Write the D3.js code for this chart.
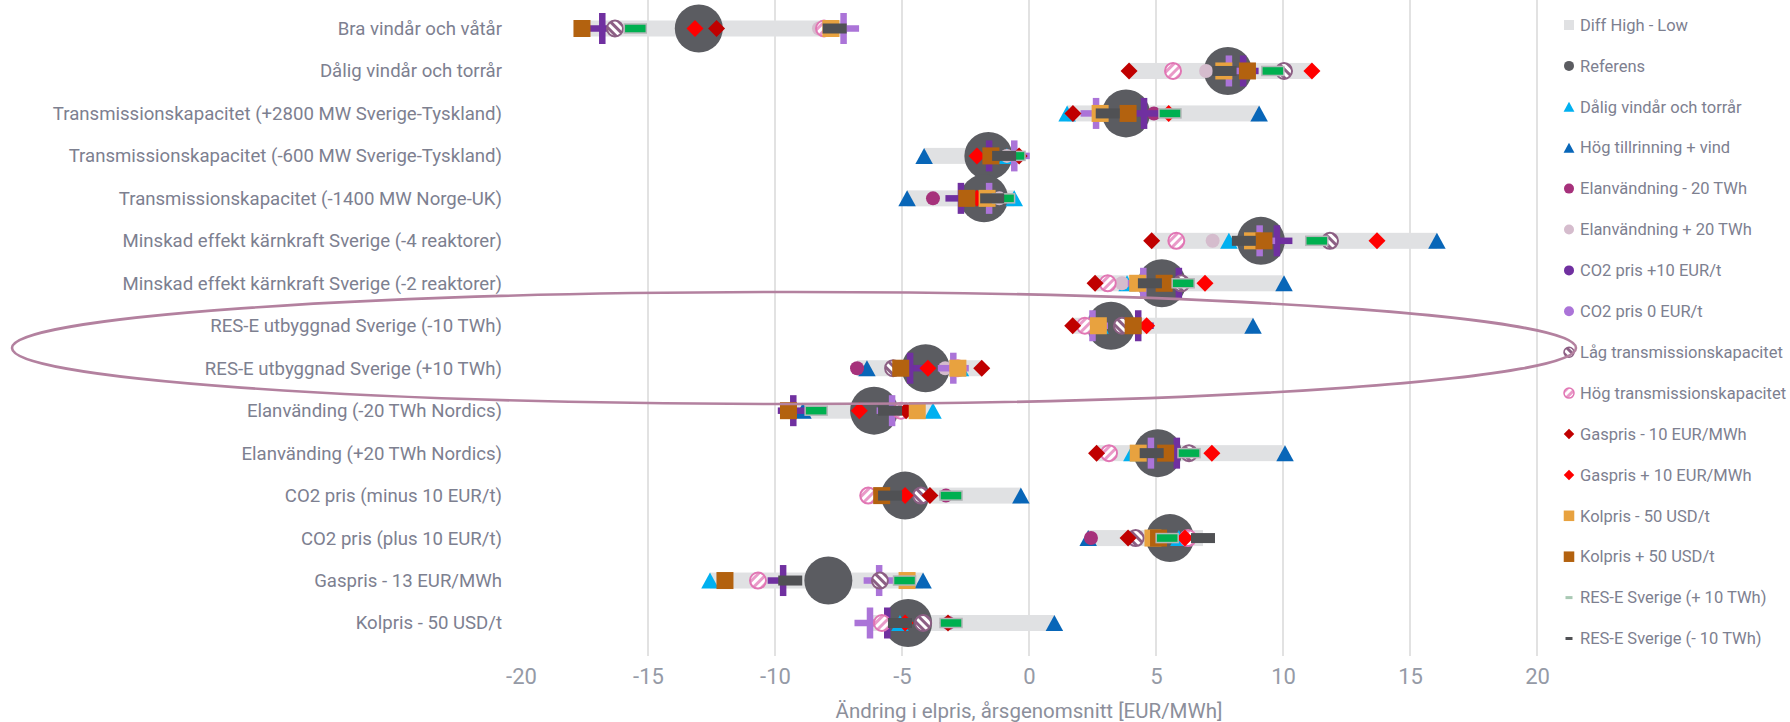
<!DOCTYPE html>
<html>
<head>
<meta charset="utf-8">
<script src="https://cdn.jsdelivr.net/npm/d3@7"></script>
<style>
body { margin: 0; background: #fff; }
text { font-family: Roboto, "Noto Sans", sans-serif; }
</style>
</head>
<body>
<script>
var width = 1790;
var height = 722;

var categories = [
    "Bra vindår och våtår",
    "Dålig vindår och torrår",
    "Transmissionskapacitet (+2800 MW Sverige-Tyskland)",
    "Transmissionskapacitet (-600 MW Sverige-Tyskland)",
    "Transmissionskapacitet (-1400 MW Norge-UK)",
    "Minskad effekt kärnkraft Sverige (-4 reaktorer)",
    "Minskad effekt kärnkraft Sverige (-2 reaktorer)",
    "RES-E utbyggnad Sverige (-10 TWh)",
    "RES-E utbyggnad Sverige (+10 TWh)",
    "Elanvänding (-20 TWh Nordics)",
    "Elanvänding (+20 TWh Nordics)",
    "CO2 pris (minus 10 EUR/t)",
    "CO2 pris (plus 10 EUR/t)",
    "Gaspris - 13 EUR/MWh",
    "Kolpris - 50 USD/t"
];

// one value per category, null = no marker in that row
var referens      = [-13.0, 7.83, 3.82, -1.6, -1.77, 9.13, 5.23, 3.23, -4.07, -6.1, 5.07, -4.88, 5.55, -7.9, -4.76];
var daligVind     = [null, null, 1.5, -0.87, -0.58, 7.87, 3.86, 2.8, -2.7, -3.78, 4.05, null, 5.9, -12.56, -5.08];
var hogTillrinning = [null, null, 9.06, -4.13, -4.8, 16.06, 10.04, 8.82, -6.38, -8.9, 10.08, -0.32, 2.33, -4.17, 1.0];
var elanvMinus    = [null, null, 4.92, null, -3.78, null, null, null, -6.77, null, null, -3.27, 2.44, null, -3.17];
var elanvPlus     = [-8.27, 6.97, null, -0.87, -1.17, 7.23, 3.66, null, -3.3, null, null, null, null, null, null];
var co2Plus10     = [-16.8, 8.43, 4.53, -1.57, -2.68, 9.76, 5.9, 4.3, -4.68, -9.28, 5.82, null, null, -9.68, -5.58];
var co2Zero       = [-7.3, 7.87, 2.64, -0.58, -1.57, 9.08, 4.5, 2.5, -2.98, -5.39, 4.8, null, null, -5.9, -6.26];
var lagTrans      = [-16.3, 10.04, null, null, null, 11.85, 6.0, 3.66, -5.35, null, 6.3, -4.25, 4.2, -5.87, -4.17];
var hogTrans      = [-8.07, 5.67, null, null, null, 5.8, 3.1, 2.2, -2.8, -5.04, 3.15, -6.33, 6.26, -10.67, -5.79];
var gasMinus      = [-12.3, 3.94, 1.73, -0.39, -1.7, 4.83, 2.6, 1.72, -1.86, -4.84, 2.66, -3.9, 3.9, null, -3.19];
var gasPlus       = [-13.15, 11.14, 5.5, -2.05, -2.05, 13.7, 6.93, 4.63, -3.98, -6.68, 7.2, -4.88, 6.14, null, -4.88];
var kolMinus      = [-7.8, 7.67, 2.8, null, -1.65, 8.8, 4.28, 2.73, -2.8, -4.4, 4.3, null, 4.88, -4.8, null];
var kolPlus       = [-17.6, 8.6, 3.9, -1.5, -2.45, 9.25, 5.32, 4.1, -5.05, -9.47, 5.38, -5.8, 5.1, -11.97, null];
var resPlus       = [-15.5, 9.6, 5.55, -0.59, -1.0, 11.33, 6.07, null, null, -8.38, 6.3, -3.07, 5.44, -4.9, -3.07];
var resMinus      = [-7.65, 7.7, 3.1, -0.98, -1.45, 8.46, 4.76, null, null, -5.47, 4.83, -5.47, 6.85, -9.4, -5.08];

var xTicks = [-20, -15, -10, -5, 0, 5, 10, 15, 20];
var xTitle = "Ändring i elpris, årsgenomsnitt [EUR/MWh]";

var series = [
    {name: "Referens", values: referens, marker: "bigcircle", color: "#5b5c61"},
    {name: "Dålig vindår och torrår", values: daligVind, marker: "triangle", color: "#00b0f0"},
    {name: "Hög tillrinning + vind", values: hogTillrinning, marker: "triangle", color: "#0866b8"},
    {name: "Elanvändning - 20 TWh", values: elanvMinus, marker: "circle", color: "#a6317b"},
    {name: "Elanvändning + 20 TWh", values: elanvPlus, marker: "circle", color: "#d5bccd"},
    {name: "CO2 pris +10 EUR/t", values: co2Plus10, marker: "plus", color: "#7030a0"},
    {name: "CO2 pris 0 EUR/t", values: co2Zero, marker: "plus", color: "#ab74d8"},
    {name: "Låg transmissionskapacitet", values: lagTrans, marker: "hatch", color: "#8c5f84", pattern: "hatchLow"},
    {name: "Hög transmissionskapacitet", values: hogTrans, marker: "hatch", color: "#e176b4", pattern: "hatchHigh"},
    {name: "Gaspris - 10 EUR/MWh", values: gasMinus, marker: "diamond", color: "#c00000"},
    {name: "Gaspris + 10 EUR/MWh", values: gasPlus, marker: "diamond", color: "#ff0000"},
    {name: "Kolpris - 50 USD/t", values: kolMinus, marker: "square", color: "#e8a23f"},
    {name: "Kolpris + 50 USD/t", values: kolPlus, marker: "square", color: "#b3620f"},
    {name: "RES-E Sverige (+ 10 TWh)", values: resPlus, marker: "dash", color: "#00b050"},
    {name: "RES-E Sverige (- 10 TWh)", values: resMinus, marker: "dash2", color: "#505154"}
];

var x = d3.scaleLinear().domain([-20, 20]).range([521, 1537]);
var y = d3.scalePoint().domain(categories).range([28.5, 623]);

var svg = d3.select("body").append("svg")
    .attr("width", width)
    .attr("height", height);

// hatch patterns for the transmission markers
var defs = svg.append("defs");
function addHatch(id, color, angle) {
    var p = defs.append("pattern")
        .attr("id", id)
        .attr("patternUnits", "userSpaceOnUse")
        .attr("width", 6).attr("height", 6)
        .attr("patternTransform", "rotate(" + angle + ")");
    p.append("rect").attr("width", 6).attr("height", 6).attr("fill", "#fff");
    p.append("rect").attr("x", 0).attr("width", 3).attr("height", 6).attr("fill", color);
}
addHatch("hatchLow", "#8c5f84", -45);
addHatch("hatchHigh", "#e99ac8", 45);

// gridlines
svg.append("g").selectAll("line")
    .data(xTicks.filter(function (d) { return d > -20; }))
    .enter().append("line")
    .attr("x1", function (d) { return x(d); })
    .attr("x2", function (d) { return x(d); })
    .attr("y1", 0)
    .attr("y2", 656)
    .style("stroke", "#d9d9d9")
    .style("stroke-width", 1.5);

// x axis
var xAxis = svg.append("g")
    .attr("transform", "translate(0,656)")
    .call(d3.axisBottom(x).tickValues(xTicks).tickSize(0).tickPadding(12).tickFormat(function (d) { return String(d); }));
xAxis.select(".domain").remove();
xAxis.selectAll("text")
    .style("font-size", "22px")
    .style("fill", "#959aa6")
    .style("font-family", "Roboto, sans-serif");

svg.append("text")
    .attr("x", x(0))
    .attr("y", 718)
    .attr("text-anchor", "middle")
    .style("font-size", "20.5px")
    .style("fill", "#8c8f9b")
    .text(xTitle);

// category labels
var yAxis = svg.append("g")
    .attr("transform", "translate(502,0)")
    .call(d3.axisLeft(y).tickSize(0).tickPadding(0));
yAxis.select(".domain").remove();
yAxis.selectAll("text")
    .style("font-size", "18.6px")
    .style("fill", "#7d8090")
    .style("font-family", "Roboto, sans-serif");

function drawMarker(g, s, k) {
    var c = s.color;
    k = k || 1;
    if (s.marker === "bigcircle") {
        g.append("circle").attr("r", 24 * k).attr("fill", c);
    } else if (s.marker === "circle") {
        g.append("circle").attr("r", 7 * k).attr("fill", c);
    } else if (s.marker === "triangle") {
        var h = 16 * k, w = 17.5 * k;
        g.append("path")
            .attr("d", "M0," + (-h / 2) + "L" + (w / 2) + "," + (h / 2) + "L" + (-w / 2) + "," + (h / 2) + "Z")
            .attr("fill", c);
    } else if (s.marker === "diamond") {
        var r = 8.5 * k;
        g.append("path")
            .attr("d", "M0," + (-r) + "L" + r + ",0L0," + r + "L" + (-r) + ",0Z")
            .attr("fill", c);
    } else if (s.marker === "square") {
        var a = 17 * k;
        g.append("rect").attr("x", -a / 2).attr("y", -a / 2).attr("width", a).attr("height", a).attr("fill", c);
    } else if (s.marker === "plus") {
        var L = 31 * k, t = 6.5 * k;
        g.append("rect").attr("x", -L / 2).attr("y", -t / 2).attr("width", L).attr("height", t).attr("fill", c);
        g.append("rect").attr("x", -t / 2).attr("y", -L / 2).attr("width", t).attr("height", L).attr("fill", c);
    } else if (s.marker === "hatch") {
        g.append("circle").attr("r", 8 * k)
            .attr("fill", "url(#" + s.pattern + ")")
            .attr("stroke", c)
            .attr("stroke-width", 2 * k);
    } else if (s.marker === "dash") {
        g.append("rect").attr("x", -11 * k).attr("y", -4.5 * k).attr("width", 22 * k).attr("height", 9 * k)
            .attr("fill", c).attr("stroke", "#b4b6b8").attr("stroke-width", 1.5 * k);
    } else if (s.marker === "dash2") {
        g.append("rect").attr("x", -12 * k).attr("y", -5 * k).attr("width", 24 * k).attr("height", 10 * k)
            .attr("fill", c);
    }
}

// diff high - low bars
var diffs = categories.map(function (cat, i) {
    var vals = series.map(function (s) { return s.values[i]; }).filter(function (v) { return v !== null; });
    return {cat: cat, lo: d3.min(vals), hi: d3.max(vals)};
});
svg.append("g").selectAll("rect")
    .data(diffs)
    .enter().append("rect")
    .attr("x", function (d) { return x(d.lo); })
    .attr("y", function (d) { return y(d.cat) - 8; })
    .attr("width", function (d) { return x(d.hi) - x(d.lo); })
    .attr("height", 16)
    .attr("fill", "#e0e1e3");

// markers, in series order
series.forEach(function (s) {
    var pts = categories.map(function (cat, i) { return {cat: cat, v: s.values[i]}; })
        .filter(function (d) { return d.v !== null; });
    svg.append("g").selectAll("g")
        .data(pts)
        .enter().append("g")
        .attr("transform", function (d) { return "translate(" + x(d.v) + "," + y(d.cat) + ")"; })
        .each(function () { drawMarker(d3.select(this), s, 1); });
});

// legend
var legendItems = [{name: "Diff High - Low", marker: "legendbar", color: "#e0e1e3"}].concat(series);
var legend = svg.append("g").selectAll("g")
    .data(legendItems)
    .enter().append("g")
    .attr("transform", function (d, i) { return "translate(1569," + (25 + i * 40.9) + ")"; });

legend.each(function (d) {
    var g = d3.select(this);
    if (d.marker === "legendbar") {
        g.append("rect").attr("x", -5).attr("y", -5).attr("width", 10).attr("height", 10).attr("fill", d.color);
    } else if (d.marker === "bigcircle") {
        g.append("circle").attr("r", 5).attr("fill", d.color);
    } else if (d.marker === "circle") {
        g.append("circle").attr("r", 5).attr("fill", d.color);
    } else if (d.marker === "plus") {
        g.append("circle").attr("r", 5).attr("fill", d.color);
    } else if (d.marker === "dash") {
        g.append("rect").attr("x", -3.5).attr("y", -1.5).attr("width", 7).attr("height", 3).attr("fill", "#a9c9b4");
    } else if (d.marker === "dash2") {
        g.append("rect").attr("x", -3.5).attr("y", -1.5).attr("width", 7).attr("height", 3).attr("fill", d.color);
    } else if (d.marker === "hatch") {
        g.append("circle").attr("r", 5).attr("fill", "url(#" + d.pattern + ")")
            .attr("stroke", d.color).attr("stroke-width", 1.5);
    } else {
        drawMarker(g, d, 0.62);
    }
});

legend.append("text")
    .attr("x", 11)
    .attr("dy", "0.35em")
    .style("font-size", "16.5px")
    .style("fill", "#7d8090")
    .text(function (d) { return d.name; });

// annotation ellipse around the RES-E rows
svg.append("ellipse")
    .attr("cx", 794)
    .attr("cy", 348)
    .attr("rx", 782)
    .attr("ry", 56)
    .attr("fill", "none")
    .attr("stroke", "#b3819f")
    .attr("stroke-width", 2.6);
</script>
</body>
</html>
